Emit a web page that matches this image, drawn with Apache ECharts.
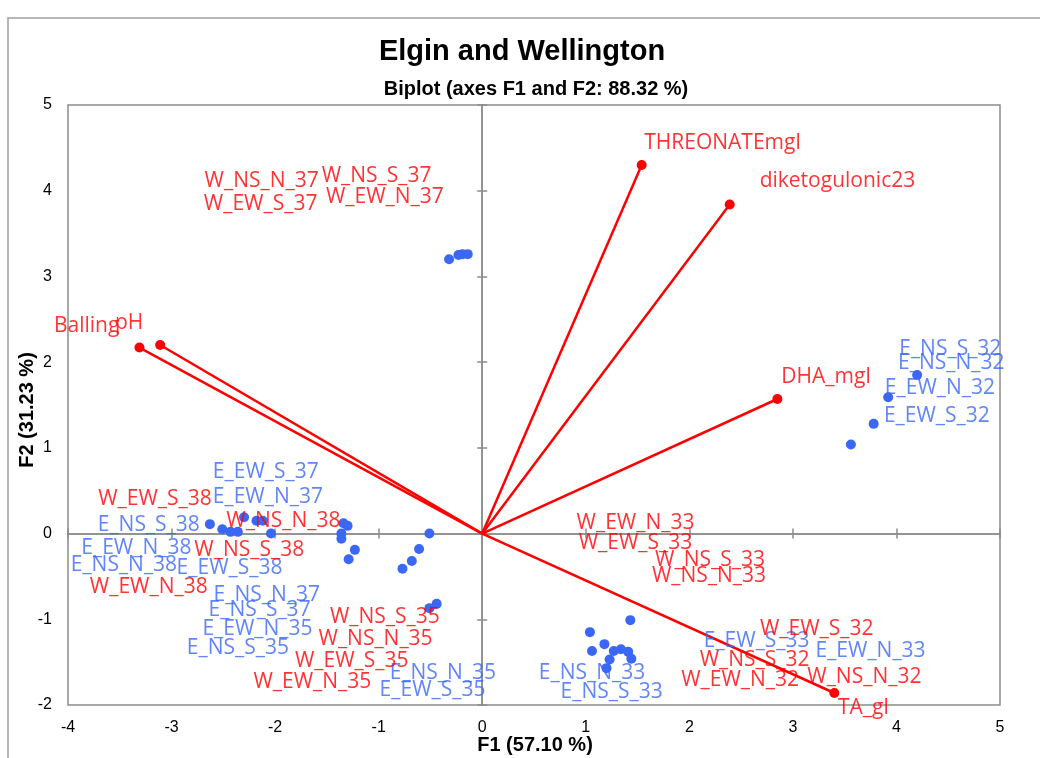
<!DOCTYPE html>
<html>
<head>
<meta charset="utf-8">
<script src="https://cdn.jsdelivr.net/npm/echarts@6/dist/echarts.min.js"></script>
<style>
  html, body { margin: 0; padding: 0; background: #fff; }
  #chart { width: 1040px; height: 758px; }
</style>
</head>
<body>
<div id="chart"></div>
<script>
// variables (biplot vectors)
const varNames = ['THREONATEmgl', 'diketogulonic23', 'DHA_mgl', 'TA_gl', 'Balling', 'pH'];
const varF1 = [1.54, 2.39, 2.85, 3.40, -3.31, -3.11];
const varF2 = [4.30, 3.84, 1.57, -1.86, 2.17, 2.20];
// label anchors for the variables
const varLabF1 = [2.32, 3.43, 3.32, 3.68, -3.82, -3.41];
const varLabF2 = [4.56, 4.11, 1.83, -2.04, 2.42, 2.46];

// observations (points)
const obsF1 = [-0.32, -0.23, -0.19, -0.14,
  4.20, 3.92, 3.78, 3.56,
  -2.63, -2.51, -2.43, -2.36, -2.30, -2.18, -2.12, -2.04,
  -1.34, -1.30, -1.36, -1.36, -1.23, -1.29,
  -0.51, -0.61, -0.68, -0.77, -0.51, -0.44,
  1.43, 1.04, 1.18, 1.06, 1.23, 1.27, 1.34, 1.41, 1.44, 1.20];
const obsF2 = [3.20, 3.25, 3.26, 3.26,
  1.85, 1.59, 1.28, 1.04,
  0.11, 0.05, 0.02, 0.02, 0.19, 0.15, 0.15, 0.00,
  0.12, 0.09, 0.00, -0.06, -0.19, -0.30,
  0.00, -0.18, -0.32, -0.41, -0.87, -0.82,
  -1.01, -1.15, -1.29, -1.37, -1.47, -1.37, -1.35, -1.38, -1.46, -1.57];

// observation labels (moved off the points, as in the original)
const eNames = ['E_NS_S_32', 'E_NS_N_32', 'E_EW_N_32', 'E_EW_S_32',
  'E_EW_S_37', 'E_EW_N_37', 'E_NS_N_37', 'E_NS_S_37',
  'E_NS_S_38', 'E_EW_N_38', 'E_NS_N_38', 'E_EW_S_38',
  'E_EW_N_35', 'E_NS_S_35', 'E_NS_N_35', 'E_EW_S_35',
  'E_EW_S_33', 'E_EW_N_33', 'E_NS_N_33', 'E_NS_S_33'];
const eLabF1 = [4.52, 4.53, 4.42, 4.39, -2.09, -2.07, -2.08, -2.15,
  -3.22, -3.34, -3.46, -2.44, -2.17, -2.36, -0.38, -0.48, 2.65, 3.75, 1.06, 1.25];
const eLabF2 = [2.15, 1.99, 1.70, 1.37, 0.72, 0.43, -0.72, -0.89,
  0.10, -0.17, -0.37, -0.40, -1.11, -1.34, -1.63, -1.83, -1.25, -1.37, -1.63, -1.85];

const wNames = ['W_NS_N_37', 'W_EW_S_37', 'W_NS_S_37', 'W_EW_N_37',
  'W_EW_S_38', 'W_NS_N_38', 'W_NS_S_38', 'W_EW_N_38',
  'W_NS_S_35', 'W_NS_N_35', 'W_EW_S_35', 'W_EW_N_35',
  'W_EW_N_33', 'W_EW_S_33', 'W_NS_S_33', 'W_NS_N_33',
  'W_EW_S_32', 'W_NS_S_32', 'W_NS_N_32', 'W_EW_N_32'];
const wLabF1 = [-2.13, -2.14, -1.02, -0.94, -3.16, -1.92, -2.25, -3.22,
  -0.94, -1.03, -1.26, -1.64, 1.48, 1.48, 2.20, 2.19, 3.23, 2.63, 3.69, 2.49];
const wLabF2 = [4.11, 3.85, 4.17, 3.93, 0.40, 0.15, -0.19, -0.62,
  -0.97, -1.23, -1.49, -1.73, 0.12, -0.11, -0.31, -0.49, -1.11, -1.48, -1.67, -1.71];

const RED = '#ff0000';
const BLUE = '#3a68f5';
const GREY = '#8c8c8c';
const tickFont = 'Liberation Sans Narrow, Arial Narrow, sans-serif';
const labelFont = 'Open Sans, DejaVu Sans, sans-serif';

const myChart = echarts.init(document.getElementById('chart'));

const labelSeries = (names, xs, ys, color) => ({
  type: 'scatter',
  symbolSize: 0,
  clip: false,
  silent: true,
  z: 5,
  data: names.map((n, i) => ({ name: n, value: [xs[i], ys[i]] })),
  label: {
    show: true,
    position: 'inside',
    formatter: '{b}',
    color: color,
    fontFamily: labelFont,
    fontSize: 21
  }
});

// axis lines through the origin, with ticks on both sides
const zeroAxisX = (pos) => ({
  type: 'value', min: -4, max: 5, interval: 1, position: pos,
  axisLine: { show: true, onZero: true, onZeroAxisIndex: 0, lineStyle: { color: GREY, width: 1.5 } },
  axisTick: { show: true, inside: false, length: 5, lineStyle: { color: GREY, width: 1.5 } },
  axisLabel: { show: false }, splitLine: { show: false }
});
const zeroAxisY = (pos) => ({
  type: 'value', min: -2, max: 5, interval: 1, position: pos,
  axisLine: { show: true, onZero: true, onZeroAxisIndex: 0, lineStyle: { color: GREY, width: 1.5 } },
  axisTick: { show: true, inside: false, length: 5, lineStyle: { color: GREY, width: 1.5 } },
  axisLabel: { show: false }, splitLine: { show: false }
});

const axisTitle = { fontFamily: tickFont, fontWeight: 'bold', fontSize: 20, fill: '#000',
  align: 'center', verticalAlign: 'middle' };

myChart.setOption({
  animation: false,
  backgroundColor: '#fff',
  graphic: [{
    type: 'rect',
    shape: { x: 8, y: 18, width: 1100, height: 800 },
    style: { fill: 'none', stroke: '#a0a0a0', lineWidth: 1.5 },
    z: -1
  }, {
    type: 'text', x: 535, y: 745,
    style: Object.assign({ text: 'F1 (57.10 %)' }, axisTitle)
  }, {
    type: 'text', x: 27, y: 410, rotation: Math.PI / 2,
    style: Object.assign({ text: 'F2 (31.23 %)' }, axisTitle)
  }],
  title: [{
    text: 'Elgin and Wellington',
    left: 517, top: 32, textAlign: 'center',
    textStyle: { fontFamily: tickFont, fontWeight: 'bold', fontSize: 29, color: '#000' }
  }, {
    text: 'Biplot (axes F1 and F2: 88.32 %)',
    left: 531, top: 74, textAlign: 'center',
    textStyle: { fontFamily: tickFont, fontWeight: 'bold', fontSize: 20, color: '#000' }
  }],
  grid: {
    left: 68, right: 40, top: 105, bottom: 53,
    outerBoundsMode: 'none',
    show: true, borderColor: GREY, borderWidth: 1.5, backgroundColor: 'transparent'
  },
  xAxis: [{
    type: 'value', min: -4, max: 5, interval: 1, position: 'bottom',
    axisLine: { show: false, onZero: false },
    axisTick: { show: false },
    axisLabel: { color: '#000', fontFamily: tickFont, fontSize: 16, margin: 15 },
    splitLine: { show: false }
  }, zeroAxisX('bottom'), zeroAxisX('top')],
  yAxis: [{
    type: 'value', min: -2, max: 5, interval: 1, position: 'left',
    axisLine: { show: false, onZero: false },
    axisTick: { show: false },
    axisLabel: { color: '#000', fontFamily: tickFont, fontSize: 16, margin: 16 },
    splitLine: { show: false }
  }, zeroAxisY('left'), zeroAxisY('right')],
  series: [{
    type: 'lines',
    coordinateSystem: 'cartesian2d',
    silent: true,
    z: 3,
    lineStyle: { color: RED, width: 2.5, opacity: 1 },
    data: varNames.map((n, i) => ({ coords: [[0, 0], [varF1[i], varF2[i]]] }))
  }, {
    type: 'scatter',
    symbolSize: 10,
    z: 4,
    itemStyle: { color: RED, opacity: 1 },
    data: varNames.map((n, i) => ({ name: n, value: [varF1[i], varF2[i]] }))
  }, {
    type: 'scatter',
    symbolSize: 10,
    z: 4,
    itemStyle: { color: BLUE, opacity: 1 },
    data: obsF1.map((x, i) => [x, obsF2[i]])
  },
  labelSeries(varNames, varLabF1, varLabF2, RED),
  labelSeries(eNames, eLabF1, eLabF2, BLUE),
  labelSeries(wNames, wLabF1, wLabF2, RED)
  ]
});
</script>
</body>
</html>
